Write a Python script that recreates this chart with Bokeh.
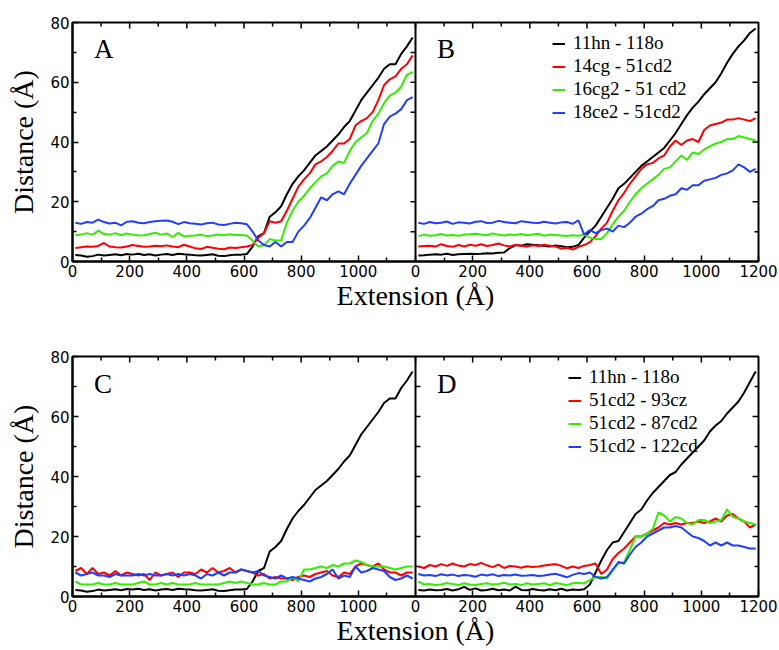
from bokeh.plotting import figure
from bokeh.layouts import column
from bokeh.models import Range1d, FixedTicker, Span, Label, Legend, LegendItem
from bokeh.embed import file_html
from bokeh.resources import INLINE

# extension sample positions (Å)
ext = list(range(10, 1200, 20))

# ---------------- Panel A ----------------
a_11hn_118o = [2.2,2.0,1.6,1.8,2.3,2.0,2.2,2.4,2.1,2.5,2.3,2.6,2.2,2.4,2.0,2.3,2.5,2.2,2.6,2.4,2.3,2.1,2.0,2.2,2.4,1.9,1.8,2.1,2.3,2.3,
               2.5,5,8.5,9.5,15,16.5,18.5,22.5,26,28.5,30.5,33,35.5,37,38.5,40.5,42.5,45,47,50.5,54,56.5,59,61.5,64.5,66,66,69.5,72,75]
a_14cg_51cd2 = [4.5,4.8,5.0,4.9,5.2,6.2,5.0,4.8,4.7,5.0,5.5,5.2,4.9,5.0,5.3,5.1,5.4,5.0,4.8,5.6,5.0,4.4,4.2,4.9,4.6,4.3,4.1,4.7,4.5,4.8,
                5.0,5.5,8,9.5,13.5,13,13.5,17,21,25,27.5,29.5,32.5,33.5,35,37,39.5,39.5,41,45.5,47,48,50,54,59,61,62,64.5,66,69]
a_16cg2_51cd2 = [8.8,9.0,9.5,9.0,10.3,9.2,9.0,9.5,8.8,9.4,9.0,8.7,8.8,9.2,9.6,9.0,9.4,8.2,9.6,8.4,8.6,8.7,9.0,8.5,8.7,9.0,8.8,9.1,8.9,8.9,
                 8.7,7,5,5.5,7.5,7,7,13,17,20,22,24.5,26.5,28.5,29.5,32,33.5,33,37,40,41.5,43,47,49.5,53,55.5,56.5,58.5,62.5,63.5]
a_18ce2_51cd2 = [13.0,12.6,13.2,13.0,14.0,13.2,12.7,13.0,12.1,13.3,13.5,13.0,12.8,13.2,13.5,13.6,13.7,13.3,12.5,13.2,12.8,12.6,12.4,12.8,13.0,12.4,12.2,12.6,13.0,12.8,
                 12.5,10,7,5.5,5,6.5,5,6.5,6.5,10,12,14.5,18,21.5,20.5,22.5,23.5,22.5,26,29,32,34.5,37,39.5,46,48.5,49.5,51,54,55]

# ---------------- Panel B ----------------
b_11hn_118o = [2.0,2.1,2.3,2.4,2.3,2.6,2.2,2.4,2.5,2.6,2.5,2.6,2.8,2.7,2.9,3.0,4.5,5.5,5.3,5.8,5.6,5.4,5.2,5.0,5.4,5.1,4.8,4.9,5.5,8.0,
               10,12,15,18,21,24.5,26,28,30,32,33.5,35,36.5,38,40.5,43,46,49,51.5,53.5,56,58,60,63,66.5,69.5,72,74,76.5,78]
b_14cg_51cd2 = [5.0,5.2,5.3,5.0,5.8,5.2,4.9,5.5,5.0,5.6,5.3,5.8,5.2,5.5,6.0,5.4,5.0,5.6,5.3,5.0,5.4,5.2,5.6,5.3,5.0,4.3,4.6,4.0,4.9,5.5,
                6.5,8.5,11,13,17,20.5,23,26,28.5,31,32.5,33,34.5,35.5,38.5,40.5,39,40.5,41,40,44,45.5,46,46.5,47.5,47.5,48,47.5,47,48]
b_16cg2_51cd2 = [8.5,9.0,8.6,8.8,9.2,8.7,8.9,8.6,9.0,9.1,9.3,9.0,8.8,9.4,9.0,8.7,9.0,8.9,9.2,8.8,9.0,9.3,8.6,9.0,8.9,8.7,8.5,8.8,8.6,9.0,
                 8.0,7.5,7.5,9.5,12.5,15,17,20,22.5,24.5,26,27.5,29,31,31.5,33.5,35.5,34,36.5,36,37.5,38.5,39.5,40,41,41,42,41.5,41,40.5]
b_18ce2_51cd2 = [13.0,12.6,13.2,12.8,13.0,13.4,12.6,13.1,13.0,12.7,13.3,13.5,12.9,13.0,13.6,13.2,13.0,12.8,13.5,13.2,13.0,12.9,13.3,13.0,12.7,13.1,13.2,12.6,13.8,9.0,
                 10.5,9.5,10.5,11,10,12,11.5,13,15,16,17.5,18.5,20.5,21,22,22.5,24.5,24,25.5,25.5,27,27.5,28,29,29.5,30.5,32.5,31.5,30,31]

# ---------------- Panel C ----------------
c_11hn_118o = a_11hn_118o
c_51cd2_93cz = [8.5,9.5,7.5,9.5,7.5,8,7,8.5,7,8,7.5,7,7.5,5.5,8,7,7.5,8,6.5,8,8,7.5,9,8,9.5,8,8.5,9.5,8,9,
                8.5,8,7,7.5,6,6.5,6,6,5.5,6.5,7,6.5,7.5,8,8.5,7,6.5,8,7.5,10,11,10.5,10,11,9,8,8,7,8,8]
c_51cd2_87cd2 = [5,4,4,4,4.5,4,4,4.5,4,4,4,4.5,5,4,4,4.5,4,4.5,4,4,4,4.5,4,4,4,4,4.5,5,4.5,5,
                 4.5,4,4,4.5,4,4,5,5,6.5,5,9,9,9.5,10,9.5,10.5,10,11,11,12,11.5,10.5,10,10,10,9.5,9,9.5,10,10]
c_51cd2_122cd = [8,7,7.5,8,7,7,6.5,7.5,7,7,7,7.5,7,7.5,7,7,7.5,7,7.5,7,7.5,7,6,7.5,7,8,7,8,8,9,
                 8.5,8,8.5,7,6.5,6,7,6,6.5,6,5.5,5,6,6.5,7.5,9,6,7,6.5,10,8,8.5,9.5,9,8.5,6.5,5.5,6,7,6]

# ---------------- Panel D ----------------
d_11hn_118o = [2.2,2.0,2.3,2.1,2.2,2.5,2.0,2.4,3.2,2.2,2.7,2.0,2.2,2.6,2.1,2.3,2.0,3.3,2.2,2.1,2.5,2.2,2.0,2.4,2.1,2.6,2.0,2.3,2.2,2.4,
               4,8,12,15.5,18,18.5,21.5,24.5,27.5,29,32,34.5,36.5,38.5,40.5,41.5,44,46,48,50,52,55,57,58.5,61,63,65,68,71.5,75]
d_51cd2_93cz = [10.0,9.5,10.5,10.0,10.8,10.2,11.0,10.3,10.0,10.8,10.5,11.2,10.4,9.8,10.6,9.5,10.2,10.0,9.6,10.1,9.8,10.0,10.3,10.6,10.8,10.2,9.4,10.0,9.5,10.2,
                10.5,11,7.5,9,12.5,14.5,16,18,20,20,21,22,23,24.5,24,24.5,24,24.5,24.5,25,24.5,25,26,25,27,27.5,26,25,23,24]
d_51cd2_87cd2 = [5.0,4.0,4.2,3.8,4.0,4.5,4.2,3.8,4.4,4.0,3.8,4.2,4.4,4.0,4.2,4.6,4.0,4.2,3.8,4.4,4.0,4.2,4.4,3.8,4.5,4.2,3.8,4.4,4.6,4.3,
                 5.5,6.5,6.5,6,8.5,11,11.5,15.5,20,20,21,22.5,28,27,25,26.5,26,24.5,24,25.5,25.5,24.5,25,25.5,29,26.5,26,25,24.5,24]
d_51cd2_122cd = [7.5,7.0,7.2,6.8,7.4,7.0,7.3,6.8,7.2,7.0,6.6,7.3,7.0,7.4,6.8,7.2,7.0,7.3,6.9,7.0,7.2,6.8,7.0,7.3,7.6,7.0,6.4,7.2,7.8,7.5,
                 8,6.5,6,6.5,9,11.5,11,14,16.5,18,20,21,22,23,23,23.5,23,21.5,20,19.5,18.5,17,18,17,18,17,17,16.5,16,16]

labels_b = ["11hn - 118o", "14cg - 51cd2", "16cg2 - 51 cd2", "18ce2 - 51cd2"]
labels_d = ["11hn - 118o", "51cd2 - 93cz", "51cd2 - 87cd2", "51cd2 - 122cd"]

x_major = [0, 200, 400, 600, 800, 1000, 1200, 1400, 1600, 1800, 2000, 2200, 2400]
x_labels = ["0", "200", "400", "600", "800", "1000", "0", "200", "400", "600", "800", "1000", "1200"]
y_major = [0, 20, 40, 60, 80]
y_minor = [10, 30, 50, 70]

COLORS = ["#000000", "#ff0000", "#33ee00", "#1f3fff"]
SERIF = "Liberation Serif"
SANS = "DejaVu Sans"
FRAME_W = 686
MAJ_PX, MIN_PX = 6, 4


def tick_marks(p, xs, ys, x1s, y1s):
    p.segment(x0=xs, y0=ys, x1=x1s, y1=y1s, line_color="black", line_width=1.5)


def make_row(left, right, right_labels, letters, height, top, bottom, frame_h, legend_x, tick_side):
    p = figure(width=779, height=height, x_range=Range1d(0, 2400), y_range=Range1d(0, 80),
               output_backend="svg", toolbar_location=None,
               min_border_left=72, min_border_right=21, min_border_top=top, min_border_bottom=bottom)
    p.extra_x_ranges = {"right": Range1d(-1200, 1200)}
    p.grid.visible = False
    p.background_fill_color = "white"
    p.outline_line_color = "black"
    p.outline_line_width = 2

    xpp = 2400 / FRAME_W      # data units per pixel
    ypp = 80 / frame_h
    minor_x = [v + 100 for v in x_major[:-1]]
    xt = FixedTicker(ticks=x_major, minor_ticks=minor_x)
    yt = FixedTicker(ticks=y_major, minor_ticks=y_minor)

    xa = p.xaxis[0]
    xa.ticker = xt
    xa.major_label_overrides = {t: s for t, s in zip(x_major, x_labels)}
    xa.axis_label = "Extension (Å)"
    ya = p.yaxis[0]
    ya.ticker = yt
    ya.axis_label = "Distance (Å)"

    for ax, std in ((xa, 0), (ya, 8)):
        ax.axis_label_text_font = SERIF
        ax.axis_label_text_font_style = "normal"
        ax.axis_label_text_font_size = "28px"
        ax.axis_label_text_color = "black"
        ax.axis_label_standoff = std
        ax.major_label_text_font = SANS
        ax.major_label_text_font_size = "15px"
        ax.major_label_text_color = "black"
        ax.major_label_standoff = 3
        ax.axis_line_width = 2
        ax.major_tick_in = MAJ_PX
        ax.major_tick_out = 0
        ax.minor_tick_in = MIN_PX
        ax.minor_tick_out = 0
        ax.major_tick_line_width = 1.5
        ax.minor_tick_line_width = 1.5

    # mirror ticks on top and right edges
    inner_x = x_major[1:-1]
    tick_marks(p, inner_x, [80] * len(inner_x), inner_x, [80 - MAJ_PX * ypp] * len(inner_x))
    tick_marks(p, minor_x, [80] * len(minor_x), minor_x, [80 - MIN_PX * ypp] * len(minor_x))
    inner_y = y_major[1:-1]
    tick_marks(p, [2400] * len(inner_y), inner_y, [2400 - MAJ_PX * xpp] * len(inner_y), inner_y)
    tick_marks(p, [2400] * len(y_minor), y_minor, [2400 - MIN_PX * xpp] * len(y_minor), y_minor)

    # divider between the two panels, with its ticks
    p.add_layout(Span(location=1200, dimension="height", line_color="black", line_width=2))
    div_y = sorted(inner_y + y_minor)
    tick_marks(p, [1200] * len(div_y), div_y, [1200 + tick_side * 5 * xpp] * len(div_y), div_y)

    for ys, c in zip(left, COLORS):
        p.line(ext, ys, line_color=c, line_width=2)
    items = []
    for ys, c, lab in zip(right, COLORS, right_labels):
        r = p.line(ext, ys, line_color=c, line_width=2, x_range_name="right")
        items.append(LegendItem(label=lab, renderers=[r]))

    p.add_layout(Label(x=75, y=71, text=letters[0], text_font=SERIF, text_font_size="27px",
                       text_baseline="middle", text_color="black"))
    p.add_layout(Label(x=75, y=71, text=letters[1], text_font=SERIF, text_font_size="27px",
                       text_baseline="middle", text_color="black", x_range_name="right"))

    row_h = 23
    leg = Legend(items=items, location=(legend_x, frame_h - 9.5 - 4 * row_h), padding=0, margin=0,
                 spacing=0, glyph_width=13, glyph_height=row_h, label_height=row_h, label_standoff=8,
                 label_text_font=SERIF, label_text_font_size="19px", label_text_color="black",
                 background_fill_alpha=0, border_line_alpha=0)
    p.add_layout(leg)
    return p


p1 = make_row([a_11hn_118o, a_14cg_51cd2, a_16cg2_51cd2, a_18ce2_51cd2],
              [b_11hn_118o, b_14cg_51cd2, b_16cg2_51cd2, b_18ce2_51cd2],
              labels_b, ("A", "B"), height=322, top=22, bottom=61, frame_h=239, legend_x=480, tick_side=-1)
p2 = make_row([c_11hn_118o, c_51cd2_93cz, c_51cd2_87cd2, c_51cd2_122cd],
              [d_11hn_118o, d_51cd2_93cz, d_51cd2_87cd2, d_51cd2_122cd],
              labels_d, ("C", "D"), height=328, top=34, bottom=54, frame_h=240, legend_x=496, tick_side=1)

layout = column(p1, p2, spacing=0)
open("out.html", "w").write(file_html(layout, INLINE))
